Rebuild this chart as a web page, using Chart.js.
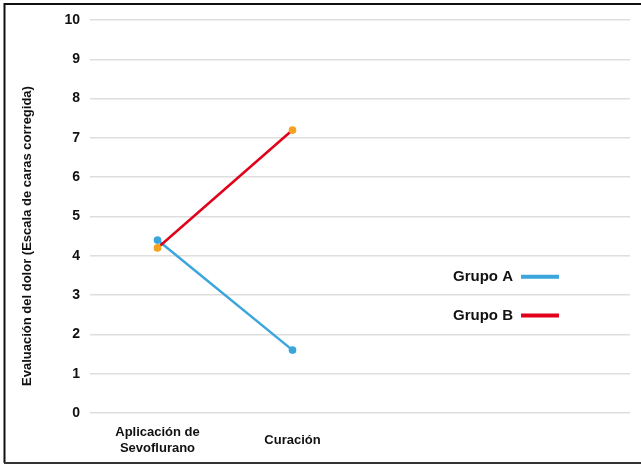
<!DOCTYPE html>
<html>
<head>
<meta charset="utf-8">
<style>
  html, body { margin: 0; padding: 0; background: #fff; }
  #wrap { width: 641px; height: 465px; position: relative; }
</style>
<script src="https://cdn.jsdelivr.net/npm/chart.js@4/dist/chart.umd.min.js"></script>
</head>
<body>
<div id="wrap"><canvas id="c" width="641" height="465"></canvas></div>
<script>
// Pain scores per moment of measurement
const categories = [['Aplicación de', 'Sevoflurano'], 'Curación', '', ''];
const grupoA = [4.4, 1.6, null, null];
const grupoB = [4.2, 7.2, null, null];
const seriesNames = ['Grupo A', 'Grupo B'];
const yTicks = [0, 1, 2, 3, 4, 5, 6, 7, 8, 9, 10];
const yTitle = 'Evaluación del dolor (Escala de caras corregida)';

const FONT = '"Liberation Sans", Arial, Helvetica, sans-serif';
const BLUE = '#3aa6dc';
const RED = '#e2001a';
const ORANGE = '#f4a21f';

// Frame, rotated axis title and the in-plot legend
const decorations = {
  id: 'decorations',
  afterDraw(chart) {
    const ctx = chart.ctx;
    ctx.save();
    // frame
    ctx.strokeStyle = '#111';
    ctx.lineWidth = 2;
    ctx.beginPath();
    ctx.moveTo(641, 4);
    ctx.lineTo(4.5, 4);
    ctx.lineTo(4.5, 463);
    ctx.stroke();
    ctx.strokeStyle = '#333';
    ctx.beginPath();
    ctx.moveTo(4, 463);
    ctx.lineTo(641, 463);
    ctx.stroke();

    // vertical axis title
    ctx.fillStyle = '#111';
    ctx.font = 'bold 13px ' + FONT;
    ctx.textAlign = 'center';
    ctx.textBaseline = 'middle';
    ctx.translate(27, 236);
    ctx.rotate(-Math.PI / 2);
    ctx.fillText(yTitle, 0, 0);
    ctx.restore();

    // legend
    ctx.save();
    const y = chart.scales.y;
    const entries = [
      { name: seriesNames[0], color: BLUE, py: y.getPixelForValue(3.47) },
      { name: seriesNames[1], color: RED, py: y.getPixelForValue(2.48) }
    ];
    ctx.font = 'bold 15px ' + FONT;
    ctx.textAlign = 'right';
    ctx.textBaseline = 'middle';
    entries.forEach(e => {
      ctx.fillStyle = '#111';
      ctx.fillText(e.name, 513, e.py);
      ctx.strokeStyle = e.color;
      ctx.lineWidth = 4;
      ctx.beginPath();
      ctx.moveTo(521, e.py);
      ctx.lineTo(559, e.py);
      ctx.stroke();
    });
    ctx.restore();
  }
};

new Chart(document.getElementById('c'), {
  type: 'line',
  data: {
    labels: categories,
    datasets: [
      {
        label: seriesNames[0],
        data: grupoA,
        borderColor: BLUE,
        backgroundColor: BLUE,
        pointBackgroundColor: BLUE,
        pointBorderColor: BLUE,
        borderWidth: 2.5,
        pointRadius: 2.6,
        tension: 0,
        order: 1
      },
      {
        label: seriesNames[1],
        data: grupoB,
        borderColor: RED,
        backgroundColor: RED,
        pointBackgroundColor: ORANGE,
        pointBorderColor: ORANGE,
        borderWidth: 2.5,
        pointRadius: 2.6,
        tension: 0,
        order: 0
      }
    ]
  },
  options: {
    responsive: false,
    animation: false,
    layout: { padding: { left: 0, top: 20, right: 11, bottom: 0 } },
    plugins: {
      legend: { display: false },
      tooltip: { enabled: false },
      title: { display: false }
    },
    scales: {
      x: {
        offset: true,
        grid: { display: false, drawTicks: false },
        border: { display: false },
        ticks: {
          padding: 19,
          color: '#111',
          maxRotation: 0,
          autoSkip: false,
          crossAlign: 'center',
          font: { family: FONT, size: 13, weight: 'bold', lineHeight: 1.25 }
        },
        afterFit(scale) { scale.height = 52; }
      },
      y: {
        min: 0,
        max: 10,
        afterBuildTicks(scale) { scale.ticks = yTicks.map(v => ({ value: v })); },
        grid: { color: '#dedede', lineWidth: 1.5, drawTicks: false },
        border: { display: false },
        ticks: {
          padding: 10,
          color: '#111',
          font: { family: FONT, size: 14, weight: 'bold' }
        },
        afterFit(scale) { scale.width = 90; }
      }
    }
  },
  plugins: [decorations]
});
</script>
</body>
</html>
